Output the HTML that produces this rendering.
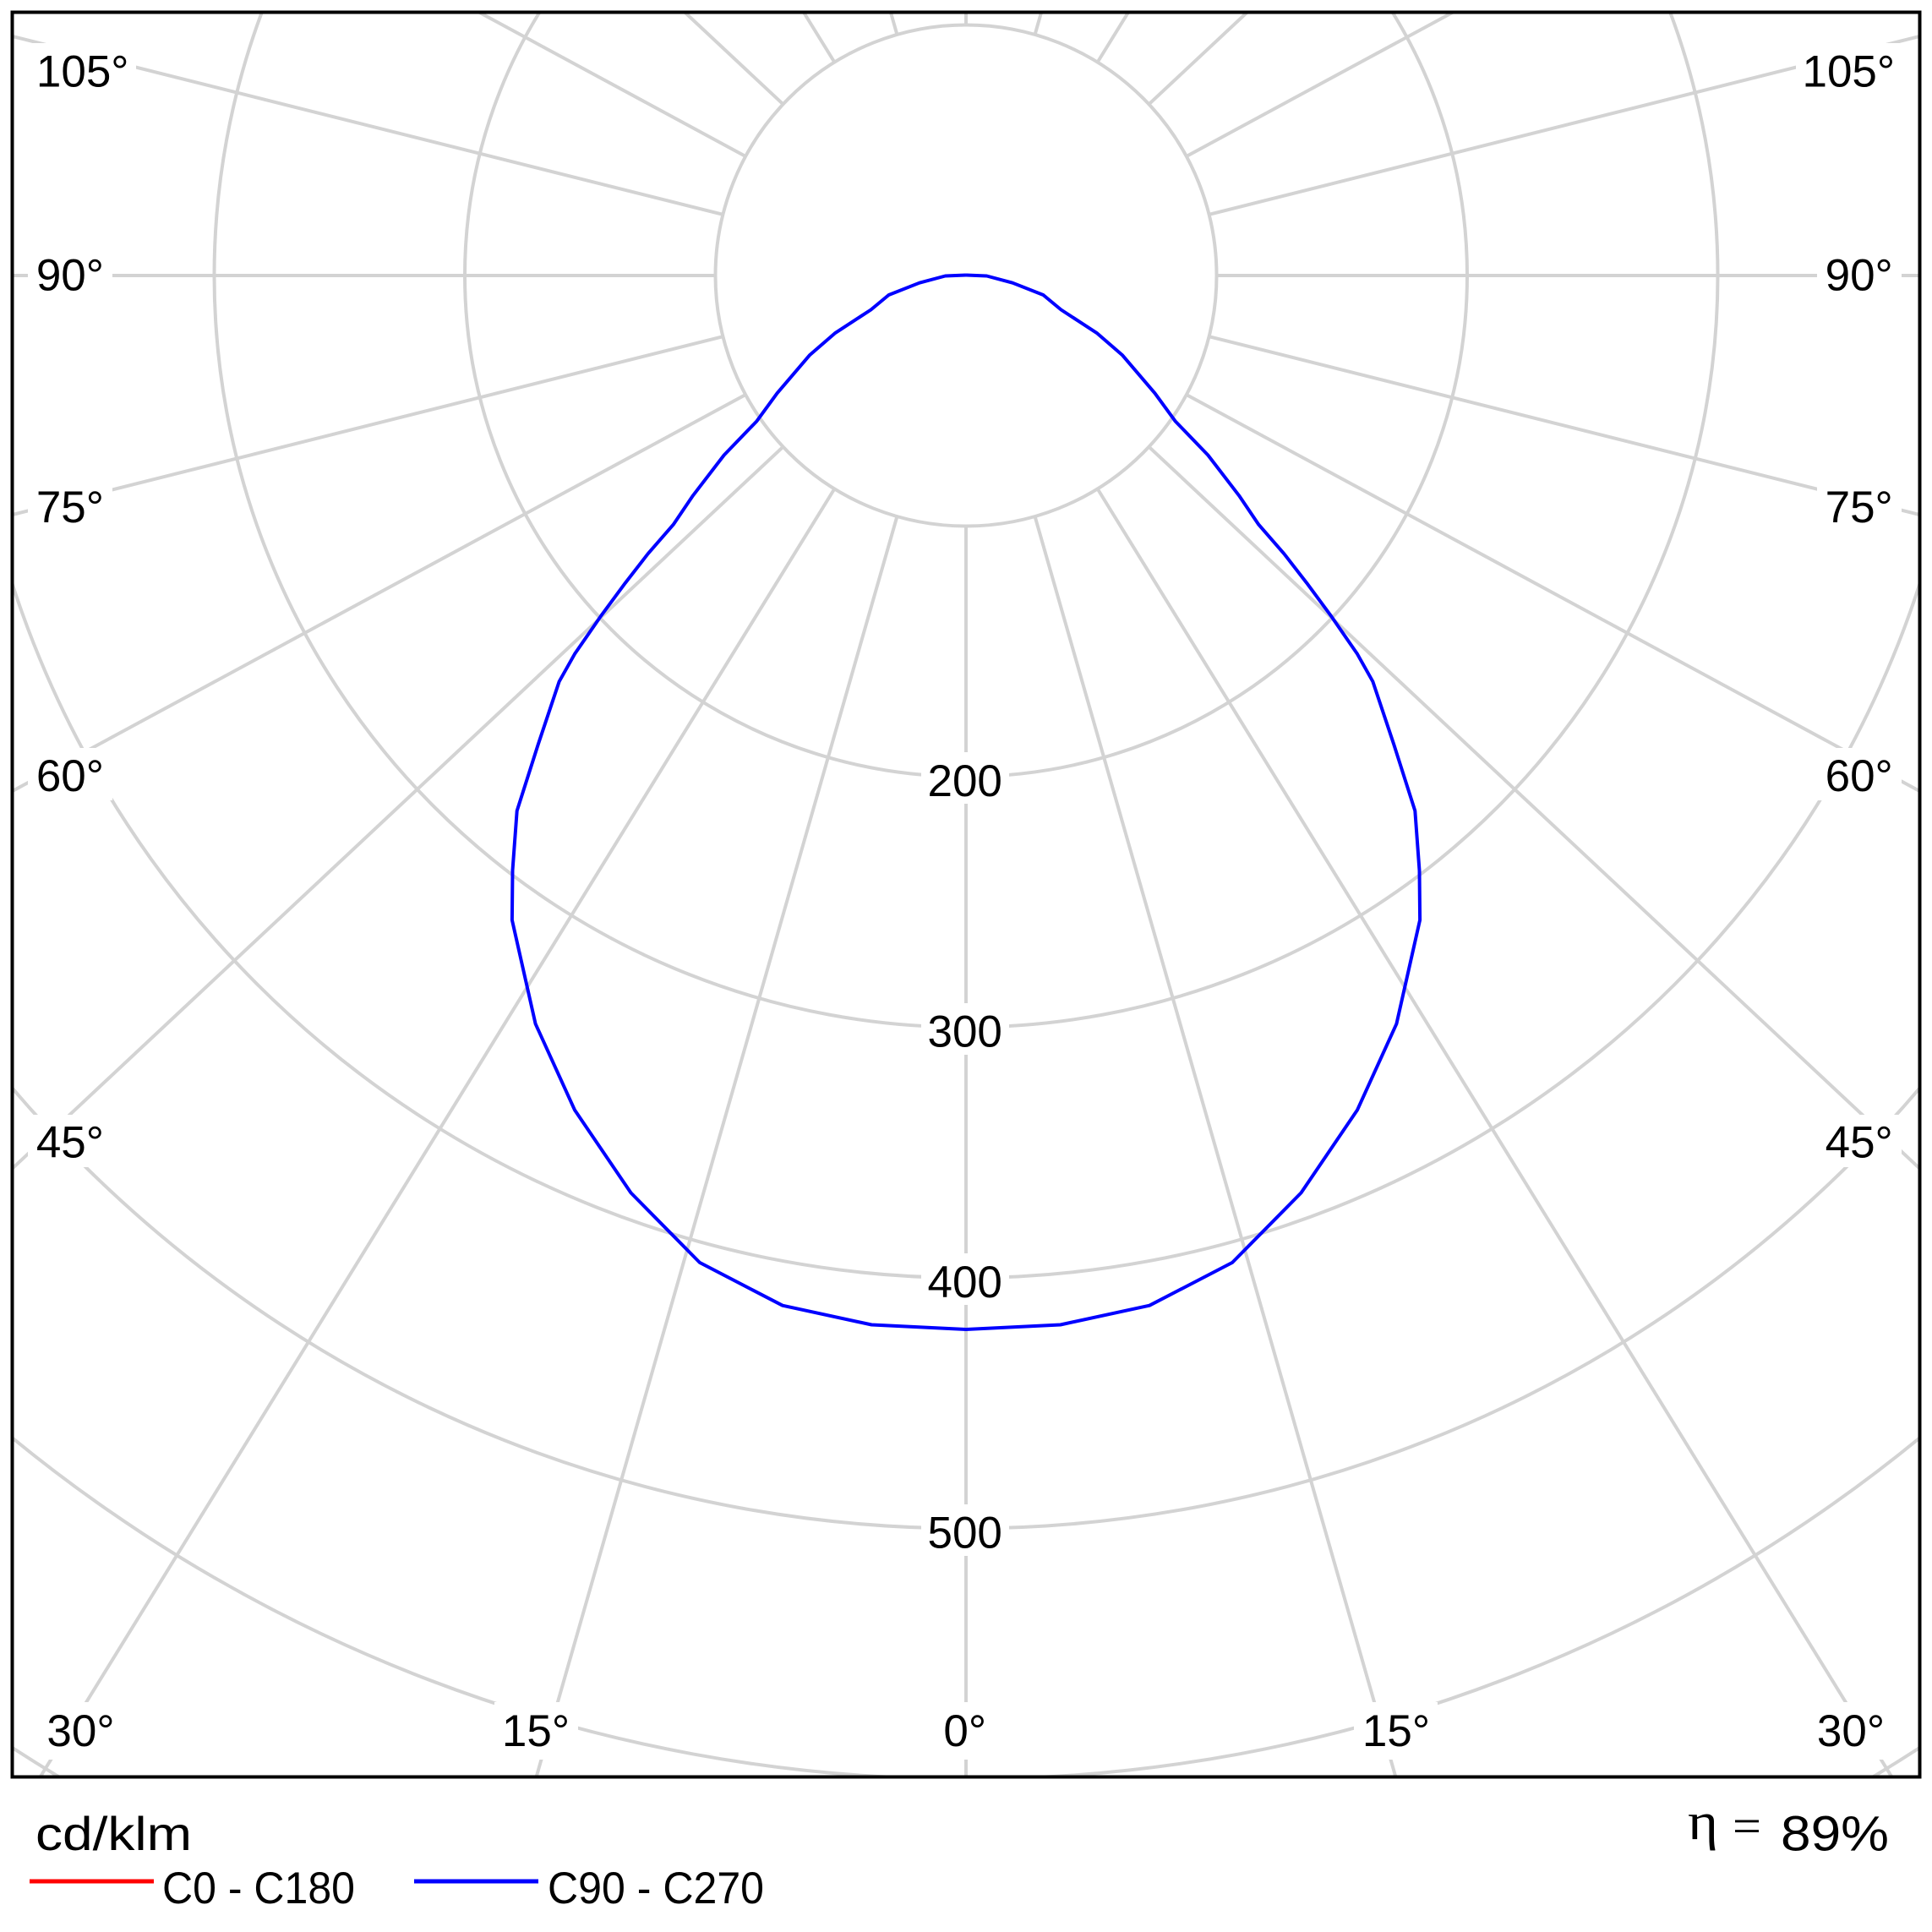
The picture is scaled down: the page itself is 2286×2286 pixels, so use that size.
<!DOCTYPE html>
<html>
<head>
<meta charset="utf-8">
<style>
html,body{margin:0;padding:0;background:#fff;overflow:hidden;width:2286px;height:2286px;}
svg{display:block;overflow:hidden;}
text{font-family:"Liberation Sans","DejaVu Sans",sans-serif;fill:#000;}
</style>
</head>
<body>
<svg width="2286" height="2286" viewBox="0 0 2286 2286" xmlns="http://www.w3.org/2000/svg">
<rect x="0" y="0" width="2286" height="2286" fill="#fff"/>
<defs>
<clipPath id="c"><rect x="14.5" y="14.5" width="2257" height="2088"/></clipPath>
</defs>
<g clip-path="url(#c)" stroke="#d3d3d3" stroke-width="4" fill="none">
<circle cx="1143" cy="326" r="296.5"/>
<circle cx="1143" cy="326" r="593"/>
<circle cx="1143" cy="326" r="889.5"/>
<circle cx="1143" cy="326" r="1186"/>
<circle cx="1143" cy="326" r="1482.5"/>
<circle cx="1143" cy="326" r="1779"/>
<path d="M 14.5 2067.9 A 2075.5 2075.5 0 0 0 69.8 2102.5"/>
<path d="M 2216.2 2102.5 A 2075.5 2075.5 0 0 0 2271.5 2067.9"/>
<line x1="1143" y1="622.5" x2="1143" y2="2102.5"/>
<line x1="1224.57" y1="611.06" x2="1651.4" y2="2102.5"/>
<line x1="1061.43" y1="611.06" x2="634.6" y2="2102.5"/>
<line x1="1298.62" y1="578.38" x2="2238.4" y2="2102.5"/>
<line x1="987.38" y1="578.38" x2="47.6" y2="2102.5"/>
<line x1="1359.43" y1="528.65" x2="2271.5" y2="1382.7"/>
<line x1="926.57" y1="528.65" x2="14.5" y2="1382.7"/>
<line x1="1403.83" y1="467.0" x2="2271.5" y2="936.1"/>
<line x1="882.17" y1="467.0" x2="14.5" y2="936.1"/>
<line x1="1430.59" y1="398.15" x2="2271.5" y2="609.1"/>
<line x1="855.41" y1="398.15" x2="14.5" y2="609.1"/>
<line x1="1439.5" y1="326" x2="2271.5" y2="326"/>
<line x1="846.5" y1="326" x2="14.5" y2="326"/>
<line x1="1430.59" y1="253.85" x2="2271.5" y2="42.9"/>
<line x1="855.41" y1="253.85" x2="14.5" y2="42.9"/>
<line x1="1403.83" y1="185.0" x2="1719.2" y2="14.5"/>
<line x1="882.17" y1="185.0" x2="566.8" y2="14.5"/>
<line x1="1359.43" y1="123.35" x2="1475.7" y2="14.5"/>
<line x1="926.57" y1="123.35" x2="810.3" y2="14.5"/>
<line x1="1298.62" y1="73.62" x2="1335.1" y2="14.5"/>
<line x1="987.38" y1="73.62" x2="950.9" y2="14.5"/>
<line x1="1224.57" y1="40.94" x2="1232.1" y2="14.5"/>
<line x1="1061.43" y1="40.94" x2="1053.9" y2="14.5"/>
<line x1="1143" y1="29.5" x2="1143" y2="14.5"/>
</g>

<g fill="#fff">
<rect x="34" y="51" width="127" height="62"/>
<rect x="33" y="296" width="100" height="58"/>
<rect x="33" y="567" width="100" height="62"/>
<rect x="33" y="885" width="100" height="62"/>
<rect x="33" y="1319" width="100" height="62"/>
<rect x="2125" y="51" width="125" height="62"/>
<rect x="2150" y="296" width="100" height="58"/>
<rect x="2150" y="567" width="100" height="62"/>
<rect x="2150" y="885" width="100" height="62"/>
<rect x="2150" y="1319" width="100" height="62"/>
<rect x="45" y="2014" width="101" height="68"/>
<rect x="585" y="2014" width="99" height="68"/>
<rect x="1105" y="2014" width="74" height="68"/>
<rect x="1602" y="2014" width="99" height="68"/>
<rect x="2140" y="2014" width="101" height="68"/>
<rect x="1090" y="890" width="104" height="61"/>
<rect x="1090" y="1187" width="104" height="61"/>
<rect x="1090" y="1483" width="104" height="61"/>
<rect x="1090" y="1780" width="104" height="61"/>
</g>

<g font-size="53" text-anchor="middle">
<text x="97.7" y="102.7">105°</text>
<text x="82.9" y="343.7">90°</text>
<text x="82.9" y="618">75°</text>
<text x="82.9" y="936">60°</text>
<text x="82.9" y="1369.7">45°</text>
<text x="2187.3" y="102.7">105°</text>
<text x="2199.7" y="343.7">90°</text>
<text x="2199.7" y="618">75°</text>
<text x="2199.7" y="936">60°</text>
<text x="2199.7" y="1369.7">45°</text>
<text x="95.5" y="2066">30°</text>
<text x="634" y="2066">15°</text>
<text x="1141.7" y="2066">0°</text>
<text x="1652" y="2066">15°</text>
<text x="2190" y="2066">30°</text>
<text x="1141.7" y="942">200</text>
<text x="1141.7" y="1238.5">300</text>
<text x="1141.7" y="1535">400</text>
<text x="1141.7" y="1831.5">500</text>
</g>

<polyline fill="none" stroke="#0000ff" stroke-width="4" stroke-linejoin="round" points="
1143,325.5 1118.5,326.5 1087.9,334.7 1051.6,349 1030.5,366.5 988.4,393.9 957.8,420.4 919.5,465.3 895.5,498.2 856.7,538.5 820,586.3 796.7,620.7 766.7,655.2 740,689.6 711.7,727.9 680,773.8 661.7,806.3 636.7,881 611.7,959.4 606.5,1030 605.9,1088.6 633.6,1211.4 679.9,1313.2 746.5,1411.4 827.9,1493.9 925.9,1544.7 1031.3,1567.5 1143,1573
1254.7,1567.5 1360.1,1544.7 1458.1,1493.9 1539.5,1411.4 1606.1,1313.2 1652.4,1211.4 1680.1,1088.6 1679.5,1030 1674.3,959.4 1649.3,881 1624.3,806.3 1606,773.8 1574.3,727.9 1546,689.6 1519.3,655.2 1489.3,620.7 1466,586.3 1429.3,538.5 1390.5,498.2 1366.5,465.3 1328.2,420.4 1297.6,393.9 1255.5,366.5 1234.4,349 1198.1,334.7 1167.5,326.5 1143,325.5"/>

<rect x="14.5" y="14.5" width="2257" height="2088" fill="none" stroke="#000" stroke-width="4"/>

<text x="42" y="2189" font-size="56" textLength="185" lengthAdjust="spacingAndGlyphs">cd/klm</text>
<line x1="35" y1="2226" x2="182" y2="2226" stroke="#ff0000" stroke-width="5"/>
<text x="192" y="2252" font-size="53" textLength="228" lengthAdjust="spacingAndGlyphs">C0 - C180</text>
<line x1="490" y1="2226" x2="637" y2="2226" stroke="#0000ff" stroke-width="5"/>
<text x="648" y="2252" font-size="53" textLength="256" lengthAdjust="spacingAndGlyphs">C90 - C270</text>

<text x="1997" y="2176" font-size="62" style="font-family:'Liberation Serif','DejaVu Serif',serif" textLength="36" lengthAdjust="spacingAndGlyphs">η</text>
<text x="2050" y="2180" font-size="58" style="font-family:'Liberation Serif','DejaVu Serif',serif" textLength="34" lengthAdjust="spacingAndGlyphs">=</text>
<text x="2107" y="2189.3" font-size="58" textLength="128" lengthAdjust="spacingAndGlyphs">89%</text>
</svg>
</body>
</html>
